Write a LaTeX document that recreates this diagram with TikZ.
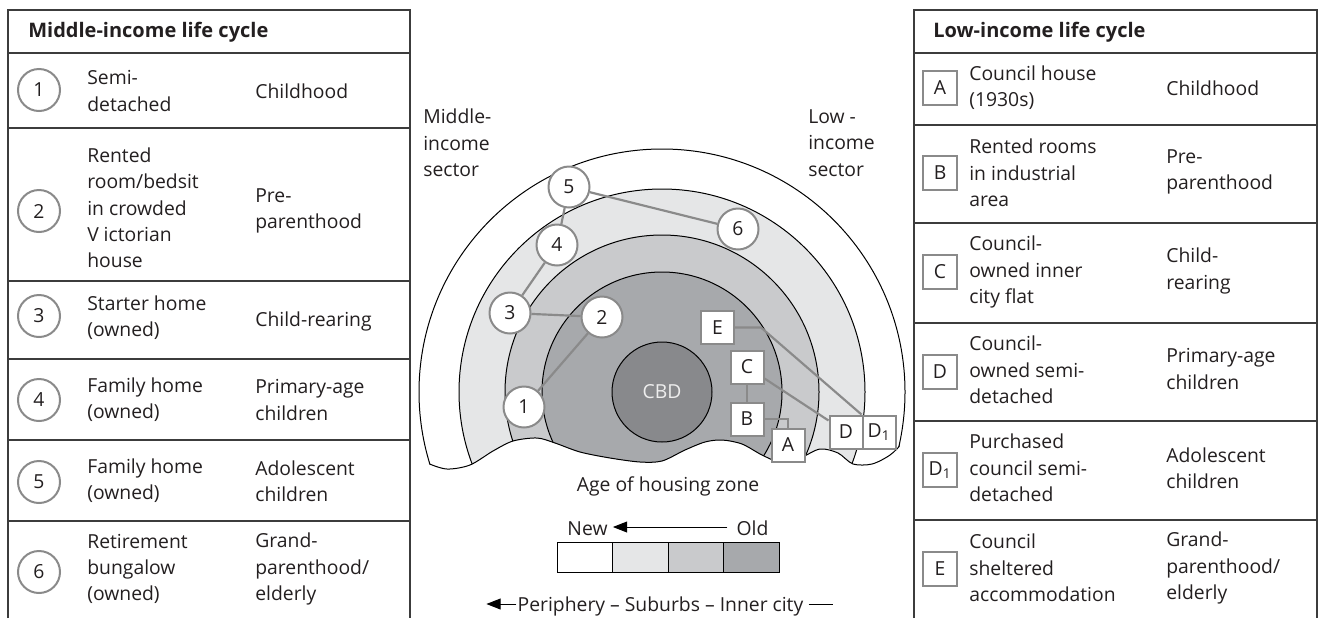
\documentclass[tikz,border=0pt]{standalone}
\usepackage{fontspec}
\setmainfont{Open Sans}
\usetikzlibrary{calc,arrows.meta}
\definecolor{txt}{HTML}{231F20}
\definecolor{tbl}{HTML}{3C3C3C}
\definecolor{mk}{HTML}{8A8A8A}
\definecolor{zoneA}{HTML}{FFFFFF}
\definecolor{zoneB}{HTML}{E5E6E7}
\definecolor{zoneC}{HTML}{C9CACC}
\definecolor{zoneD}{HTML}{A7A9AC}
\definecolor{cbdfill}{HTML}{88898C}
\definecolor{cbdtxt}{HTML}{EEEEEE}
\begin{document}
\begin{tikzpicture}[x=0.6pt,y=-0.6pt,
  every node/.style={font=\fontsize{11.6pt}{15.8pt}\selectfont, text=txt},
  lbl/.style={anchor=west, align=left, inner sep=0pt},
  hdr/.style={anchor=west, inner sep=0pt, font=\fontsize{12pt}{15.8pt}\selectfont\bfseries},
  tline/.style={draw=tbl, line width=0.9pt},
  num/.style={circle, draw=mk, line width=1.2pt, fill=white, minimum size=24.6pt, inner sep=0pt},
  tnum/.style={num, minimum size=25.2pt},
  sq/.style={rectangle, draw=mk, line width=1.2pt, fill=white, minimum size=19.8pt, inner sep=0pt},
  link/.style={draw=mk, line width=1.3pt},
  ringline/.style={draw=black, line width=0.6pt},
  legline/.style={draw=black, line width=0.6pt},
  arr/.style={legline, -{Triangle[length=8.5pt,width=6.5pt]}}
]
\useasboundingbox (0,0) rectangle (1323,618);

% ---------------- left table ----------------
\draw[tline] (8,618) -- (8,10) -- (410,10) -- (410,618);
\foreach \yy in {53,128,281,359,440,521} \draw[tline] (8,\yy) -- (410,\yy);
\node[hdr] (lh) at (28,32) {Middle-income life cycle};

\node[tnum] (l1) at (39,90) {1};
\node[lbl] (l1a) at (87,91) {Semi-\\detached};
\node[lbl] (l1b) at (255,91) {Childhood};

\node[tnum] (l2) at (39,211) {2};
\node[lbl] (l2a) at (87,208) {Rented\\room/bedsit\\in crowded\\V\hspace{0.25em}ictorian\\house};
\node[lbl] (l2b) at (255,211) {Pre-\\parenthood};

\node[tnum] (l3) at (39,316) {3};
\node[lbl] (l3a) at (87,318) {Starter home\\(owned)};
\node[lbl] (l3b) at (255,321) {Child-rearing};

\node[tnum] (l4) at (39,400) {4};
\node[lbl] (l4a) at (87,400) {Family home\\(owned)};
\node[lbl] (l4b) at (255,400) {Primary-age\\children};

\node[tnum] (l5) at (39,482) {5};
\node[lbl] (l5a) at (87,481) {Family home\\(owned)};
\node[lbl] (l5b) at (255,481) {Adolescent\\children};

\node[tnum] (l6) at (39,572) {6};
\node[lbl] (l6a) at (87,569) {Retirement\\bungalow\\(owned)};
\node[lbl] (l6b) at (255,569) {Grand-\\parenthood/\\elderly};

% ---------------- right table ----------------
\draw[tline] (914,618) -- (914,10) -- (1317,10) -- (1317,618);
\foreach \yy in {53,125,223,323,421,520} \draw[tline] (914,\yy) -- (1317,\yy);
\node[hdr] (rh) at (933,32) {Low-income life cycle};

\node[sq, minimum size=20.4pt] (rA) at (940,88) {A};
\node[lbl] (rAa) at (969,88) {Council house\\(1930s)};
\node[lbl] (rAb) at (1166,88) {Childhood};

\node[sq, minimum size=20.4pt] (rB) at (940,173) {B};
\node[lbl] (rBa) at (969,173) {Rented rooms\\in industrial\\area};
\node[lbl] (rBb) at (1166,172) {Pre-\\parenthood};

\node[sq, minimum size=20.4pt] (rC) at (940,272) {C};
\node[lbl] (rCa) at (969,272) {Council-\\owned inner\\city flat};
\node[lbl] (rCb) at (1166,271) {Child-\\rearing};

\node[sq, minimum size=20.4pt] (rD) at (940,372) {D};
\node[lbl] (rDa) at (969,370) {Council-\\owned semi-\\detached};
\node[lbl] (rDb) at (1166,369) {Primary-age\\children};

\node[sq, minimum size=20.4pt] (rD1) at (940,470) {D\textsubscript{1}};
\node[lbl] (rD1a) at (969,468) {Purchased\\council semi-\\detached};
\node[lbl] (rD1b) at (1166,468) {Adolescent\\children};

\node[sq, minimum size=20.4pt] (rE) at (940,569) {E};
\node[lbl] (rEa) at (969,568) {Council\\sheltered\\accommodation};
\node[lbl] (rEb) at (1166,568) {Grand-\\parenthood/\\elderly};

% ---------------- central diagram ----------------
\def\wave{(398,440) (414,456) (427,463) (447,469) (470,465) (493,451) (513,441) (537,438) (555,443) (580,452) (610,458) (640,462) (662,461) (685,450) (705,442) (722,440) (742,444) (762,455) (780,462) (800,458) (820,449) (838,453) (853,464) (872,464) (890,455) (903,442) (914,424) (922,405)}
\begin{scope}
  \clip plot[smooth] coordinates {\wave} -- (930,100) -- (390,100) -- cycle;
  \filldraw[fill=zoneA, ringline] (662,392) circle[radius=145.8pt];
  \filldraw[fill=zoneB, ringline] (662,392) circle[radius=121.8pt];
  \filldraw[fill=zoneC, ringline] (662,392) circle[radius=94.2pt];
  \filldraw[fill=zoneD, ringline] (662,392) circle[radius=72pt];
\end{scope}
\begin{scope}
  \clip (662,392) circle[radius=146.2pt];
  \draw[ringline] plot[smooth] coordinates {\wave};
\end{scope}

\node[circle, fill=cbdfill, ringline, minimum size=60pt, inner sep=0pt, text=cbdtxt] (cbd) at (662,392) {CBD};

\node[lbl] (ms) at (423,143) {Middle-\\income\\sector};
\node[lbl] (ls) at (808,143) {Low -\\income\\sector};

\node[num] (n1) at (524,407) {1};
\node[num] (n2) at (602,317) {2};
\node[num] (n3) at (510,313) {3};
\node[num] (n4) at (557,245) {4};
\node[num] (n5) at (569,187) {5};
\node[num] (n6) at (738,229) {6};

\node[sq] (E) at (717.5,327.5) {E};
\node[sq] (C) at (747,367) {C};
\node[sq] (B) at (747,419) {B};
\node[sq] (A) at (788,445) {A};
\node[sq] (D) at (846,432) {D};
\node[sq] (D1) at (879,432) {D\textsubscript{1}};

\draw[link] (n1) -- (n2);
\draw[link] (n2) -- (n3);
\draw[link] (n3) -- (n4);
\draw[link] (n4) -- (n5);
\draw[link] (n5) -- (n6);
\draw[link] (E.east) -- ($(E.east)+(26,0)$) -- (D1.north west);
\draw[link] (C) -- (D);
\draw[link] (C) -- (B);
\draw[link] (B.east) -| (A.north);

% ---------------- legend ----------------
\node[inner sep=0pt, anchor=base] (age) at (668,491) {Age of housing zone};
\node[inner sep=0pt, anchor=base] (new) at (587.5,535) {New};
\node[inner sep=0pt, anchor=base] (old) at (752.5,535) {Old};
\coordinate (ay) at (0,527);
\draw[arr] ($(old.west|-ay)+(-9,0)$) -- ($(new.east|-ay)+(5,0)$);

\filldraw[fill=zoneA, legline] (557,542) rectangle (612.5,572);
\filldraw[fill=zoneB, legline] (612.5,542) rectangle (668,572);
\filldraw[fill=zoneC, legline] (668,542) rectangle (723.5,572);
\filldraw[fill=zoneD, legline] (723.5,542) rectangle (779,572);

\node[inner sep=0pt, anchor=base] (per) at (660.5,611) {Periphery – Suburbs – Inner city};
\coordinate (py) at (0,604);
\draw[arr] ($(per.west|-py)+(-1,0)$) -- ($(per.west|-py)+(-31,0)$);
\draw[legline] ($(per.east|-py)+(5,0)$) -- ($(per.east|-py)+(29,0)$);
\end{tikzpicture}
\end{document}
